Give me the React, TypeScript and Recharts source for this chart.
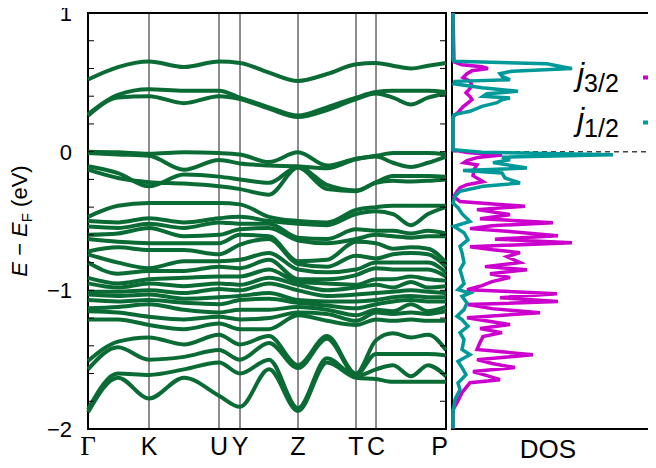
import { LineChart, Line, XAxis, YAxis, ReferenceLine, ReferenceArea, Legend } from "recharts";

const FONT = '"Liberation Sans", Arial, sans-serif';
const SERIF = '"Liberation Serif", "Times New Roman", serif';
const BAND_COLOR = "#0a6b35";
const J32_COLOR = "#cc00cc";
const J12_COLOR = "#009999";

// path coordinate of each sampled k-point along Γ-K-U|Y-Z-T-C-P
const K_PATH = [0, 30, 61, 96, 131, 152, 181, 210, 239, 268, 288, 305, 323, 340, 358];
const HSP_POS = [0, 61, 131, 152, 210, 268, 288, 358];
const HSP_LABELS = ["Γ", "K", "U", "Y", "Z", "T", "C", "P"];

const E_TICKS = [-2, -1.8, -1.6, -1.4, -1.2, -1, -0.8, -0.6, -0.4, -0.2, 0, 0.2, 0.4, 0.6, 0.8, 1];
const MAJOR_TICKS = [-2, -1, 0, 1];
const MAJOR_LABELS = ["−2", "−1", "0", "1"];
const DOS_TICKS = [-1.75, -1.5, -1.25, -1, -0.75, -0.5, -0.25, 0, 0.25, 0.5, 0.75];

// conduction bands
const C1 = [0.52, 0.61, 0.65, 0.61, 0.65, 0.64, 0.57, 0.51, 0.56, 0.63, 0.64, 0.62, 0.6, 0.62, 0.64];
const C2 = [0.27, 0.41, 0.45, 0.44, 0.44, 0.39, 0.32, 0.26, 0.32, 0.39, 0.43, 0.44, 0.44, 0.44, 0.43];
const C3 = [0.26, 0.39, 0.4, 0.35, 0.4, 0.38, 0.31, 0.25, 0.3, 0.38, 0.42, 0.39, 0.34, 0.39, 0.42];

// top valence bands
const V1 = [0.0, -0.005, -0.015, -0.005, -0.01, -0.02, -0.075, -0.005, -0.1, -0.05, -0.03, -0.01, -0.01, -0.01, -0.02];
const V2 = [-0.01, -0.02, -0.03, -0.13, -0.06, -0.085, -0.1, -0.105, -0.12, -0.055, -0.035, -0.08, -0.11, -0.08, -0.035];
const V3 = [-0.105, -0.155, -0.25, -0.165, -0.18, -0.2, -0.225, -0.11, -0.24, -0.28, -0.22, -0.175, -0.175, -0.175, -0.18];
const V4 = [-0.13, -0.19, -0.22, -0.23, -0.25, -0.27, -0.31, -0.115, -0.27, -0.285, -0.225, -0.21, -0.215, -0.21, -0.2];

// deeper valence manifold
const M1 = [-0.47, -0.39, -0.37, -0.37, -0.37, -0.38, -0.47, -0.5, -0.51, -0.42, -0.4, -0.39, -0.39, -0.39, -0.39];
const M2 = [-0.5, -0.51, -0.48, -0.51, -0.48, -0.47, -0.5, -0.52, -0.53, -0.45, -0.43, -0.45, -0.53, -0.45, -0.4];
const M3 = [-0.54, -0.55, -0.52, -0.55, -0.51, -0.52, -0.52, -0.62, -0.63, -0.56, -0.57, -0.57, -0.59, -0.57, -0.59];
const M4 = [-0.6, -0.59, -0.55, -0.61, -0.6, -0.56, -0.55, -0.64, -0.66, -0.63, -0.6, -0.61, -0.62, -0.61, -0.61];
const M5 = [-0.63, -0.65, -0.66, -0.66, -0.66, -0.6, -0.61, -0.79, -0.78, -0.65, -0.66, -0.7, -0.69, -0.7, -0.8];
const M6 = [-0.72, -0.69, -0.71, -0.71, -0.74, -0.67, -0.63, -0.81, -0.83, -0.75, -0.77, -0.74, -0.73, -0.74, -0.83];
const M7 = [-0.74, -0.8, -0.84, -0.79, -0.79, -0.78, -0.73, -0.85, -0.87, -0.85, -0.8, -0.8, -0.8, -0.8, -0.87];
const M8 = [-0.8, -0.88, -0.86, -0.86, -0.83, -0.84, -0.78, -0.92, -0.92, -0.89, -0.84, -0.85, -0.85, -0.85, -0.9];
const M9 = [-0.91, -0.95, -0.92, -0.91, -0.9, -0.9, -0.85, -0.94, -0.95, -0.96, -0.92, -0.92, -0.9, -0.92, -0.93];
const M10 = [-0.95, -0.98, -0.95, -0.97, -0.95, -0.96, -0.91, -0.96, -1.0, -0.98, -0.96, -0.98, -0.94, -0.98, -0.97];
const M11 = [-1.01, -1.01, -1.0, -1.02, -0.99, -1.0, -0.95, -1.0, -1.04, -1.03, -1.02, -1.01, -1.0, -1.01, -1.02];
const M12 = [-1.03, -1.04, -1.03, -1.06, -1.05, -1.04, -1.02, -1.07, -1.08, -1.08, -1.07, -1.05, -1.04, -1.05, -1.05];
const M13 = [-1.07, -1.08, -1.07, -1.09, -1.1, -1.07, -1.06, -1.09, -1.11, -1.13, -1.1, -1.08, -1.07, -1.08, -1.08];
const M14 = [-1.13, -1.12, -1.1, -1.14, -1.16, -1.14, -1.14, -1.12, -1.14, -1.18, -1.14, -1.15, -1.1, -1.15, -1.12];
const M15 = [-1.15, -1.16, -1.19, -1.21, -1.19, -1.21, -1.2, -1.16, -1.17, -1.22, -1.16, -1.17, -1.16, -1.17, -1.15];
const M16 = [-1.21, -1.21, -1.25, -1.28, -1.24, -1.28, -1.28, -1.18, -1.22, -1.25, -1.21, -1.22, -1.21, -1.22, -1.22];
const M17 = [-1.51, -1.37, -1.34, -1.39, -1.32, -1.39, -1.33, -1.54, -1.33, -1.6, -1.36, -1.31, -1.34, -1.32, -1.43];
const M18 = [-1.57, -1.41, -1.5, -1.48, -1.43, -1.5, -1.38, -1.56, -1.35, -1.61, -1.46, -1.46, -1.46, -1.46, -1.47];
const M19 = [-1.86, -1.6, -1.61, -1.57, -1.52, -1.6, -1.5, -1.85, -1.49, -1.62, -1.57, -1.54, -1.62, -1.54, -1.62];
const M20 = [-1.88, -1.63, -1.78, -1.63, -1.76, -1.84, -1.57, -1.87, -1.52, -1.63, -1.64, -1.66, -1.66, -1.66, -1.66];

const BANDS = [C1, C2, C3, V1, V2, V3, V4, M1, M2, M3, M4, M5, M6, M7, M8, M9, M10, M11, M12, M13, M14, M15, M16, M17, M18, M19, M20];

// projected DOS, j = 1/2
const J12_E = [1.0, 0.663, 0.652, 0.634, 0.613, 0.599, 0.58, 0.562, 0.544, 0.519, 0.507, 0.49, 0.461, 0.435, 0.418, 0.399, 0.387, 0.375, 0.353, 0.327, 0.291, 0.267, 0.231, 0.014, -0.004, -0.022, -0.04, -0.058, -0.079, -0.118, -0.135, -0.154, -0.19, -0.226, -0.25, -0.286, -0.322, -0.37, -0.404, -0.447, -0.503, -0.539, -0.584, -0.635, -0.683, -0.728, -0.8, -0.851, -0.901, -0.952, -0.995, -1.019, -1.043, -1.091, -1.139, -1.187, -1.211, -1.26, -1.305, -1.355, -1.427, -1.464, -1.512, -1.557, -1.608, -1.668, -1.716, -1.788, -1.882, -1.997];
const J12_V = [1, 1, 2, 95, 110, 120, 60, 48, 50, 58, 3, 2, 30, 66, 35, 31, 58, 50, 45, 30, 18, 2, 1, 1, 30, 161, 50, 58, 41, 75, 11, 50, 53, 68, 31, 8, 3, 1, 6, 10, 18, 2, 12, 16, 8, 10, 12, 8, 10, 12, 6, 18, 10, 15, 12, 5, 10, 16, 8, 12, 10, 18, 6, 10, 14, 6, 8, 3, 1, 1];

// projected DOS, j = 3/2
const J32_E = [1.0, 0.649, 0.627, 0.613, 0.599, 0.584, 0.562, 0.534, 0.507, 0.476, 0.447, 0.425, 0.397, 0.375, 0.346, 0.324, 0.281, 0.252, 0.014, -0.007, -0.025, -0.043, -0.065, -0.079, -0.094, -0.13, -0.173, -0.216, -0.238, -0.26, -0.288, -0.324, -0.36, -0.394, -0.418, -0.454, -0.483, -0.512, -0.534, -0.555, -0.577, -0.606, -0.631, -0.656, -0.685, -0.707, -0.728, -0.757, -0.8, -0.829, -0.851, -0.88, -0.908, -0.937, -0.966, -0.995, -1.024, -1.053, -1.081, -1.103, -1.132, -1.161, -1.197, -1.226, -1.247, -1.276, -1.305, -1.334, -1.377, -1.427, -1.464, -1.5, -1.528, -1.557, -1.586, -1.615, -1.644, -1.666, -1.702, -1.738, -1.81, -1.86, -1.997];
const J32_V = [1, 2, 10, 30, 36, 20, 15, 11, 18, 20, 17, 14, 18, 20, 15, 11, 6, 1, 1, 15, 50, 25, 15, 12, 25, 22, 21, 31, 15, 8, 5, 2, 8, 73, 25, 58, 28, 101, 40, 18, 60, 106, 43, 120, 18, 41, 68, 55, 68, 33, 75, 38, 58, 40, 30, 15, 105, 48, 106, 16, 40, 88, 15, 40, 58, 28, 50, 31, 28, 25, 81, 25, 40, 63, 21, 35, 48, 18, 14, 10, 5, 1, 1];

const LEGEND_NAMES = ["j3/2", "j1/2"];

const BAND_ROWS = K_PATH.map((k, i) => {
  const row: Record<string, number> = { k };
  BANDS.forEach((b, j) => {
    row["b" + j] = b[i];
  });
  return row;
});
const J32_ROWS = J32_E.map((e, i) => ({ e, v: J32_V[i] }));
const J12_ROWS = J12_E.map((e, i) => ({ e, v: J12_V[i] }));

const BAND_PLOT_W = 358;
const DOS_PLOT_W = 210;
const LABEL_GAP = 16;
const PLOT_TOP = 13;
const PLOT_H = 416;

function EnergyTick({ x, y, payload }: any) {
  const axisX = x + LABEL_GAP;
  const idx = MAJOR_TICKS.indexOf(payload.value);
  return (
    <g>
      <line x1={axisX} x2={axisX + 6} y1={y} y2={y} stroke="#000" strokeWidth={1} />
      <line x1={axisX + BAND_PLOT_W - 6} x2={axisX + BAND_PLOT_W} y1={y} y2={y} stroke="#000" strokeWidth={1} />
      {idx >= 0 && (
        <text x={x} y={y} dy="0.36em" textAnchor="end" fontSize={22} fontFamily={FONT} fill="#000">
          {MAJOR_LABELS[idx]}
        </text>
      )}
    </g>
  );
}

function KTick({ x, y, payload }: any) {
  const i = HSP_POS.indexOf(payload.value);
  const label = HSP_LABELS[i];
  const isGamma = label === "Γ";
  const isLast = i === HSP_LABELS.length - 1;
  return (
    <text
      x={isLast ? x + 2 : x}
      y={y + 26}
      textAnchor={isLast ? "end" : "middle"}
      fontSize={isGamma ? 27 : 25}
      fontFamily={isGamma ? SERIF : FONT}
      fill="#000"
    >
      {label}
    </text>
  );
}

function DosTick({ x, y, payload }: any) {
  const right = x + DOS_PLOT_W;
  const major = payload.value % 0.5 === 0;
  return (
    <g>
      <line x1={x} x2={x + 4} y1={y} y2={y} stroke="#000" strokeWidth={1} />
      {major && <line x1={right - 8} x2={right} y1={y} y2={y} stroke="#000" strokeWidth={1} />}
    </g>
  );
}

function EnergyTitle() {
  const cx = 27;
  const cy = PLOT_TOP + PLOT_H / 2;
  return (
    <text transform={`rotate(-90 ${cx} ${cy})`} x={cx} y={cy} textAnchor="middle" fontSize={22} fontFamily={FONT} fill="#000">
      <tspan fontStyle="italic">E</tspan>
      <tspan> − </tspan>
      <tspan fontStyle="italic">E</tspan>
      <tspan fontSize={15} dy={5}>F</tspan>
      <tspan dy={-5}> (eV)</tspan>
    </text>
  );
}

function DosTitle() {
  return (
    <text x={4 + 96} y={PLOT_TOP + PLOT_H + 29} textAnchor="middle" fontSize={26} fontFamily={FONT} fill="#000">
      DOS
    </text>
  );
}

function DosLegend({ payload }: any) {
  const items = [...(payload || [])].sort(
    (a: any, b: any) => LEGEND_NAMES.indexOf(String(a.value)) - LEGEND_NAMES.indexOf(String(b.value))
  );
  return (
    <svg width={130} height={100} style={{ overflow: "visible" }}>
      {items.map((entry: any, i: number) => {
        const yl = 22.5 + 45 * i;
        const name = String(entry.value);
        return (
          <g key={name}>
            <text x={0} y={yl + 7} fontSize={32} fontFamily={FONT} fill="#000">
              <tspan fontStyle="italic">{name.slice(0, 1)}</tspan>
              <tspan fontSize={25} dy={7}>{name.slice(1)}</tspan>
            </text>
            <line x1={66} x2={130} y1={yl} y2={yl} stroke={entry.color} strokeWidth={4} />
          </g>
        );
      })}
    </svg>
  );
}

export default function App() {
  return (
    <div style={{ position: "relative", width: 656, height: 468, margin: "-8px 0 0 -8px", overflow: "hidden", fontFamily: FONT }}>
      <div style={{ position: "absolute", left: 0, top: 0 }}>
        <LineChart width={448} height={468} data={BAND_ROWS} margin={{ top: PLOT_TOP, right: 2, bottom: 13, left: 0 }}>
          <XAxis
            dataKey="k"
            type="number"
            domain={[0, 358]}
            ticks={HSP_POS}
            interval={0}
            height={26}
            tickLine={false}
            axisLine={false}
            tickSize={0}
            tickMargin={0}
            tick={<KTick />}
          />
          <YAxis
            type="number"
            domain={[-2, 1]}
            ticks={E_TICKS}
            interval={0}
            width={88}
            tickLine={false}
            axisLine={false}
            tickSize={0}
            tickMargin={LABEL_GAP}
            tick={<EnergyTick />}
            label={{ content: () => <EnergyTitle /> }}
          />
          {HSP_POS.slice(1, -1).map((k) => (
            <ReferenceLine key={k} x={k} stroke="#1a1a1a" strokeWidth={1} />
          ))}
          {BANDS.map((_, j) => (
            <Line
              key={j}
              dataKey={"b" + j}
              type="monotone"
              stroke={BAND_COLOR}
              strokeWidth={4}
              dot={false}
              activeDot={false}
              isAnimationActive={false}
            />
          ))}
          <ReferenceArea x1={0} x2={358} y1={-2} y2={1} fill="none" stroke="#000" strokeWidth={2} />
        </LineChart>
      </div>
      <div style={{ position: "absolute", left: 448, top: 0 }}>
        <LineChart layout="vertical" width={230} height={468} margin={{ top: PLOT_TOP, right: 16, bottom: 13, left: 4 }}>
          <XAxis
            type="number"
            domain={[0, DOS_PLOT_W]}
            height={26}
            tick={false}
            tickLine={false}
            axisLine={false}
            label={{ content: () => <DosTitle /> }}
          />
          <YAxis
            dataKey="e"
            type="number"
            domain={[-2, 1]}
            reversed
            ticks={DOS_TICKS}
            interval={0}
            width={0}
            tickLine={false}
            axisLine={false}
            tickSize={0}
            tickMargin={0}
            tick={<DosTick />}
          />
          <ReferenceLine y={0} stroke="#444" strokeWidth={1.5} strokeDasharray="5 4" />
          <Line
            data={J32_ROWS}
            dataKey="v"
            name={LEGEND_NAMES[0]}
            type="linear"
            stroke={J32_COLOR}
            strokeWidth={3.5}
            dot={false}
            activeDot={false}
            isAnimationActive={false}
          />
          <Line
            data={J12_ROWS}
            dataKey="v"
            name={LEGEND_NAMES[1]}
            type="linear"
            stroke={J12_COLOR}
            strokeWidth={3.5}
            dot={false}
            activeDot={false}
            isAnimationActive={false}
          />
          <ReferenceArea x1={0} x2={DOS_PLOT_W} y1={-2} y2={1} fill="none" stroke="#000" strokeWidth={2} />
          <Legend
            layout="vertical"
            align="center"
            verticalAlign="middle"
            wrapperStyle={{ left: 129, top: 55, width: 130, height: 100 }}
            content={<DosLegend />}
          />
        </LineChart>
      </div>
    </div>
  );
}
